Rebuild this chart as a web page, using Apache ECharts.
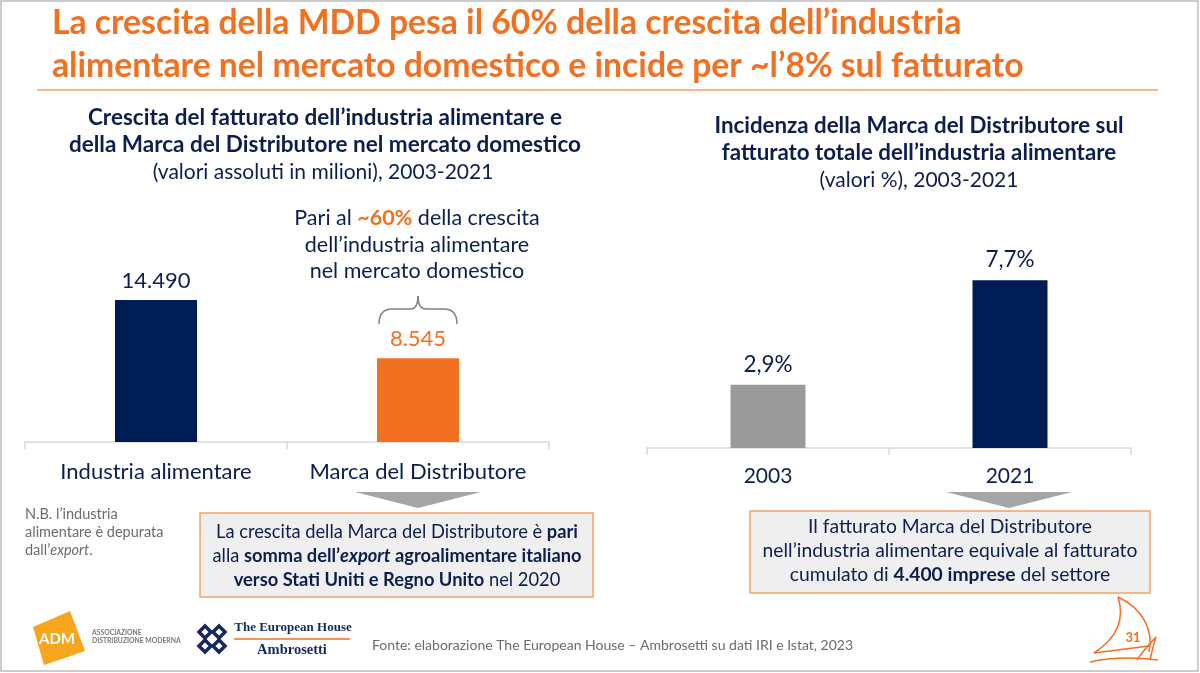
<!DOCTYPE html>
<html><head><meta charset="utf-8">
<script src="https://cdn.jsdelivr.net/npm/echarts@6.0.0/dist/echarts.min.js"></script>
<style>html,body{margin:0;padding:0;background:#fff}#c{width:1200px;height:673px}</style>
</head><body><div id="c"></div>
<script>
const leftCategories = ['Industria alimentare', 'Marca del Distributore'];
const leftValues = [14490, 8545];
const rightCategories = ['2003', '2021'];
const rightValues = [2.9, 7.7];

const F = 'Lato, "Open Sans", sans-serif';
const NAVY = '#0C1E4E';
const ORANGE = '#F37021';
const BAR_NAVY = '#001C54';
const GRAY_BAR = '#9B9B9B';

function fmtThousands(v) { return String(v).replace(/\B(?=(\d{3})+(?!\d))/g, '.'); }
function txt(x, y, text, size, color, weight, align, extra) {
  return {
    type: 'text', x: x, y: y, z: 10,
    style: Object.assign({
      text: text, fill: color, textAlign: align || 'center', textVerticalAlign: 'middle',
      font: (weight || 'normal') + ' ' + size + 'px ' + F
    }, extra || {})
  };
}
function rich(x, y, text, size, color, align) {
  return {
    type: 'text', x: x, y: y, z: 10,
    style: {
      text: text, fill: color, textAlign: align || 'center', textVerticalAlign: 'middle',
      font: 'normal ' + size + 'px ' + F,
      rich: {
        b: { fontWeight: 'bold', fontSize: size, fontFamily: F, fill: color, color: color },
        bi: { fontWeight: 'bold', fontStyle: 'italic', fontSize: size, fontFamily: F, fill: color, color: color },
        i: { fontStyle: 'italic', fontSize: size, fontFamily: F, fill: color, color: color },
        o: { fontWeight: 'bold', fontSize: size, fontFamily: F, fill: ORANGE, color: ORANGE }
      }
    }
  };
}
function seg(x1, y1, x2, y2, color, w) {
  return { type: 'line', z: 10, shape: { x1: x1, y1: y1, x2: x2, y2: y2 }, style: { stroke: color, lineWidth: w, fill: null } };
}
function qcurve(x1, y1, cx, cy, x2, y2, color, w) {
  return { type: 'bezierCurve', z: 10, shape: { x1: x1, y1: y1, cpx1: cx, cpy1: cy, x2: x2, y2: y2 }, style: { stroke: color, lineWidth: w, fill: null } };
}
function ccurve(x1, y1, c1x, c1y, c2x, c2y, x2, y2, color, w) {
  return { type: 'bezierCurve', z: 10, shape: { x1: x1, y1: y1, cpx1: c1x, cpy1: c1y, cpx2: c2x, cpy2: c2y, x2: x2, y2: y2 }, style: { stroke: color, lineWidth: w, fill: null } };
}
function diamond(cx, cy, r, color) {
  return { type: 'polygon', z: 10, shape: { points: [[cx - r, cy], [cx, cy - r], [cx + r, cy], [cx, cy + r]] }, style: { fill: null, stroke: color, lineWidth: 3.5 } };
}

const chart = echarts.init(document.getElementById('c'), null, { renderer: 'canvas' });
const BR = '#7f7f7f';
const SB = ORANGE;
const graphics = [
  { type: 'rect', shape: { x: 1, y: 1, width: 1197, height: 670 }, style: { fill: null, stroke: '#cccccc', lineWidth: 2 } },
  txt(52, 23, 'La crescita della MDD pesa il 60% della crescita dell’industria', 33.7, ORANGE, 'bold', 'left'),
  txt(52, 66, 'alimentare nel mercato domestico e incide per ~l’8% sul fatturato', 33.7, ORANGE, 'bold', 'left'),
  seg(37, 90, 1158, 90, '#F9B98C', 2),

  txt(325, 118, 'Crescita del fatturato dell’industria alimentare e', 22.5, NAVY, 'bold'),
  txt(325, 145, 'della Marca del Distributore nel mercato domestico', 22.5, NAVY, 'bold'),
  txt(323, 172, '(valori assoluti in milioni), 2003-2021', 21, NAVY, 'normal'),

  txt(919, 126, 'Incidenza della Marca del Distributore sul', 22.3, NAVY, 'bold'),
  txt(919, 153, 'fatturato totale dell’industria alimentare', 22.3, NAVY, 'bold'),
  txt(919, 180, '(valori %), 2003-2021', 21, NAVY, 'normal'),

  rich(417, 218, 'Pari al {o|~60%} della crescita', 21.5, NAVY),
  txt(417, 245, 'dell’industria alimentare', 21.5, NAVY, 'normal'),
  txt(417, 271, 'nel mercato domestico', 21.5, NAVY, 'normal'),

  qcurve(379, 324, 379, 309, 392, 309, BR, 1.5),
  seg(392, 309, 410, 309, BR, 1.5),
  qcurve(410, 309, 418, 309, 418, 296, BR, 1.5),
  qcurve(418, 296, 418, 309, 426, 309, BR, 1.5),
  seg(426, 309, 444, 309, BR, 1.5),
  qcurve(444, 309, 457, 309, 457, 324, BR, 1.5),

  { type: 'polygon', shape: { points: [[355, 492], [481, 492], [418, 508]] }, style: { fill: '#A5A5A5' } },
  { type: 'polygon', shape: { points: [[946, 492], [1072, 492], [1009, 508]] }, style: { fill: '#A5A5A5' } },

  { type: 'rect', shape: { x: 200, y: 513, width: 393, height: 84 }, style: { fill: '#EFEFEF', stroke: '#F4A36A', lineWidth: 1.5 } },
  rich(397, 532, 'La crescita della Marca del Distributore è {b|pari}', 18.3, NAVY),
  rich(397, 556, 'alla {b|somma dell’}{bi|export}{b| agroalimentare italiano}', 18.3, NAVY),
  rich(397, 580, '{b|verso Stati Uniti e Regno Unito} nel 2020', 18.3, NAVY),

  { type: 'rect', shape: { x: 750, y: 511, width: 400, height: 82 }, style: { fill: '#EFEFEF', stroke: '#F4A36A', lineWidth: 1.5 } },
  txt(950, 527, 'Il fatturato Marca del Distributore', 19.3, NAVY, 'normal'),
  txt(950, 551, 'nell’industria alimentare equivale al fatturato', 19.3, NAVY, 'normal'),
  rich(950, 575, 'cumulato di {b|4.400 imprese} del settore', 19.3, NAVY),

  txt(25, 514, 'N.B. l’industria', 14.5, '#6B6B6B', 'normal', 'left'),
  txt(25, 532, 'alimentare è depurata', 14.5, '#6B6B6B', 'normal', 'left'),
  {
    type: 'text', x: 25, y: 550, z: 10,
    style: { text: 'dall’{i|export}.', fill: '#6B6B6B', textAlign: 'left', textVerticalAlign: 'middle', font: 'normal 14.5px ' + F,
      rich: { i: { fontStyle: 'italic', fontSize: 14.5, fontFamily: F, fill: '#6B6B6B', color: '#6B6B6B' } } }
  },

  { type: 'polygon', shape: { points: [[33, 627], [70, 611], [85, 651], [44, 665]] }, style: { fill: '#F7A51C' } },
  txt(57, 639, 'ADM', 15, '#ffffff', 'bold'),
  txt(92, 633, 'ASSOCIAZIONE', 6.8, '#777777', 'bold', 'left'),
  txt(92, 641, 'DISTRIBUZIONE MODERNA', 6.8, '#777777', 'bold', 'left'),

  diamond(205, 632, 6, '#142A5E'),
  diamond(219, 632, 6, '#142A5E'),
  diamond(205, 646, 6, '#142A5E'),
  diamond(219, 646, 6, '#142A5E'),
  txt(293, 628, 'The European House', 13, '#142A5E', 'bold', 'center', { font: 'bold 13px "Liberation Serif", "DejaVu Serif", serif' }),
  seg(234, 639, 350, 639, ORANGE, 1.5),
  txt(292, 650, 'Ambrosetti', 14.5, '#142A5E', 'bold', 'center', { font: 'bold 14.5px "Liberation Serif", "DejaVu Serif", serif' }),

  txt(372, 645, 'Fonte: elaborazione The European House – Ambrosetti su dati IRI e Istat, 2023', 14, '#6B6B6B', 'normal', 'left'),

  ccurve(1118, 597, 1142, 608, 1154, 630, 1149, 652, SB, 1.5),
  ccurve(1118, 597, 1126, 622, 1114, 640, 1094, 653, SB, 1.5),
  seg(1094, 653, 1149, 646, SB, 1.5),
  qcurve(1156, 637, 1152, 650, 1150, 660, SB, 1.5),
  qcurve(1156, 637, 1142, 652, 1137, 660, SB, 1.5),
  qcurve(1090, 662, 1120, 655, 1158, 660, SB, 1.5),
  txt(1133, 638, '31', 13, ORANGE, 'bold')
];

const option = {
  backgroundColor: '#ffffff',
  animation: false,
  textStyle: { fontFamily: F },
  grid: [
    { left: 25, width: 524, top: 246, height: 196 },
    { left: 647, width: 484, top: 230, height: 218 }
  ],
  xAxis: [
    {
      gridIndex: 0, type: 'category', data: leftCategories,
      axisLine: { lineStyle: { color: '#D9D9D9', width: 1.5 } },
      axisTick: { show: true, length: 7, lineStyle: { color: '#D9D9D9', width: 1.5 } },
      axisLabel: { color: NAVY, fontSize: 22, margin: 19, fontFamily: F, interval: 0, hideOverlap: false }
    },
    {
      gridIndex: 1, type: 'category', data: rightCategories,
      axisLine: { lineStyle: { color: '#D9D9D9', width: 1.5 } },
      axisTick: { show: true, length: 7, lineStyle: { color: '#D9D9D9', width: 1.5 } },
      axisLabel: { color: NAVY, fontSize: 21, margin: 18, fontFamily: F, interval: 0 }
    }
  ],
  yAxis: [
    { gridIndex: 0, type: 'value', min: 0, max: 20000, show: false, splitLine: { show: false } },
    { gridIndex: 1, type: 'value', min: 0, max: 10, show: false, splitLine: { show: false } }
  ],
  series: [
    {
      type: 'bar', xAxisIndex: 0, yAxisIndex: 0, barWidth: 82,
      data: leftValues.map((v, i) => ({
        value: v,
        itemStyle: { color: i === 0 ? BAR_NAVY : ORANGE },
        label: { color: i === 0 ? NAVY : ORANGE }
      })),
      label: { show: true, position: 'top', distance: 8, fontSize: 22, fontFamily: F,
        formatter: p => fmtThousands(p.value) }
    },
    {
      type: 'bar', xAxisIndex: 1, yAxisIndex: 1, barWidth: 75,
      data: rightValues.map((v, i) => ({
        value: v,
        itemStyle: { color: i === 0 ? GRAY_BAR : BAR_NAVY }
      })),
      label: { show: true, position: 'top', distance: 9, fontSize: 22.5, fontFamily: F, color: NAVY,
        formatter: p => String(p.value).replace('.', ',') + '%' }
    }
  ],
  graphic: graphics
};
chart.setOption(option);
</script>
</body></html>
